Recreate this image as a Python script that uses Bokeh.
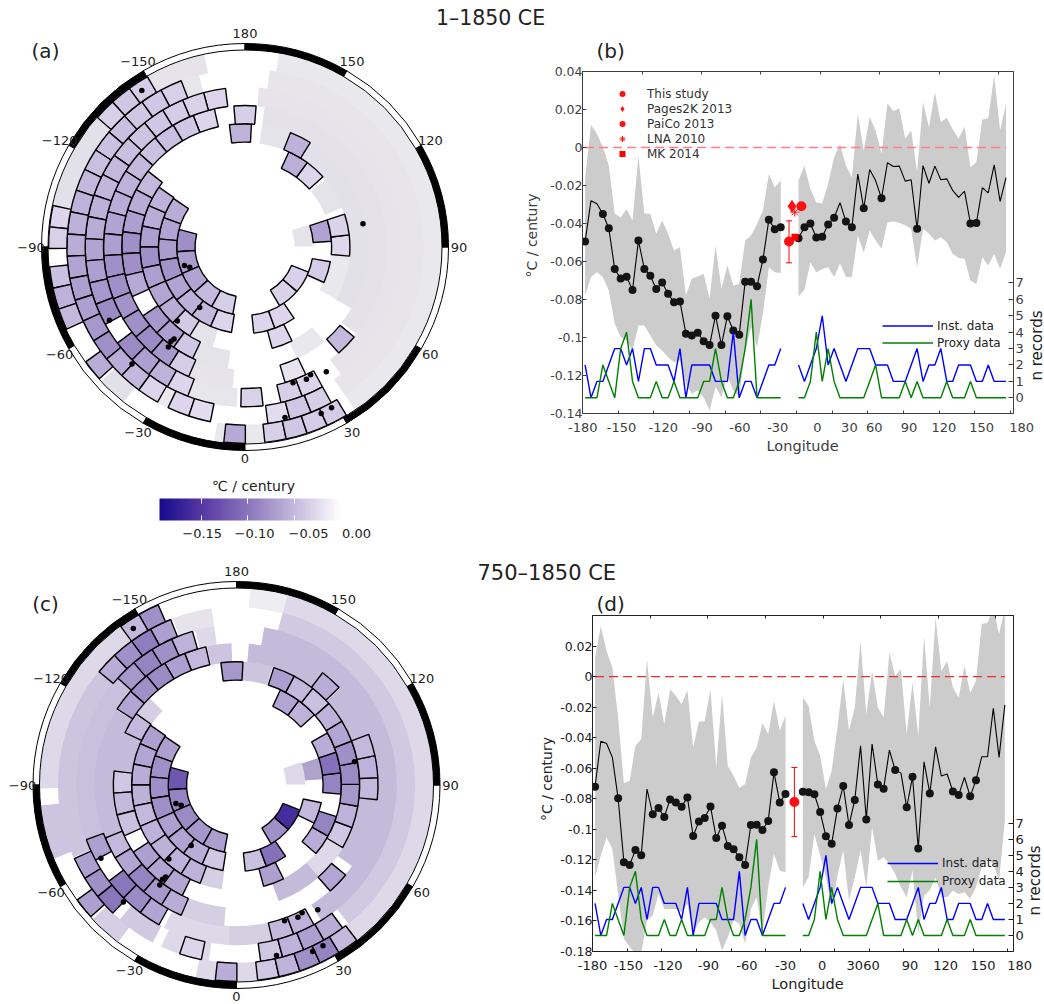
import math
from bokeh.embed import file_html
from bokeh.resources import INLINE
from bokeh.layouts import column, row
from bokeh.models import (ColumnDataSource, Range1d, LinearAxis, FixedTicker, Legend, LegendItem, Title, Label,
                          Whisker, TeeHead, ColorBar, LinearColorMapper)
from bokeh.plotting import figure
from bokeh.transform import transform
from bokeh.core.properties import value

FONT = "DejaVu Sans"

# ---------- equal-area grid of the maps: cells per ring ----------
RING_CELLS = [19, 25, 31, 35, 40, 45, 50, 57]
# outlined cells: (ring, first longitude, values in degC/century)
A_CELLS = [
    (0, -105, [-0.082, -0.072, -0.066, -0.05, -0.035]), (0, 30.5, [-0.032, -0.033]),
    (1, -124.2, [-0.06, -0.066, -0.072, -0.078, -0.066, -0.056, -0.05, -0.03]),
    (1, 65.8, [-0.036]), (1, 5.8, [-0.03, -0.03]), (1, 93.8, [-0.068]),
    (2, -124.8, [-0.055, -0.06, -0.07, -0.08, -0.07, -0.065, -0.06, -0.038]),
    (2, 85, [-0.028, -0.032]), (2, 15, [-0.03]), (2, 132, [-0.03, -0.058]),
    (3, -128, [-0.05, -0.06, -0.07, -0.08, -0.08, -0.062]), (3, -56, [-0.075, -0.07, -0.04]),
    (3, 148, [-0.055]), (3, -183, [-0.055]),
    (4, -167.5, [-0.03, -0.04, -0.046, -0.044, -0.05, -0.055, -0.06, -0.066, -0.07, -0.08,
                 -0.08, -0.078, -0.08, -0.085, -0.075, -0.036]),
    (4, 41.5, [-0.05]), (4, 175.5, [-0.035]), (4, 16.5, [-0.02]),
    (5, -173, [-0.03, -0.032, -0.036, -0.04, -0.042, -0.046, -0.05, -0.052, -0.056, -0.06,
               -0.066, -0.07, -0.076, -0.085]),
    (5, -53, [-0.085, -0.07, -0.055, -0.03]), (5, -1.5, [-0.032]), (5, 13, [-0.035]), (5, 21, [-0.03]),
    (6, -159, [-0.034, -0.04, -0.04, -0.046, -0.044, -0.046, -0.05, -0.055, -0.056, -0.06,
               -0.066, -0.07, -0.07, -0.076, -0.08, -0.06, -0.05, -0.03]),
    (6, -25.6, [-0.03, -0.025]), (6, 7.4, [-0.025, -0.04, -0.035]),
    (7, -150.2, [-0.036, -0.04, -0.034]), (7, -102.2, [-0.03, -0.034]),
    (7, -84.2, [-0.045, -0.055, -0.05]), (7, -54.2, [-0.06]), (7, -6.2, [-0.062]),
    (7, 5.8, [-0.034, -0.04, -0.036, -0.036]),
]
# cells without an outline: (ring, from longitude, to longitude, value)
A_PALE = [
    (7, 34, 170, -0.012), (7, -168, -150, -0.018), (7, -131, -102, -0.025), (7, -47, -38, -0.025),
    (7, -9, -6, -0.012), (7, 0, 6, -0.012), (6, 34, 172, -0.016), (6, -165, -159, -0.015),
    (6, -29, -25, -0.01), (5, 37, 175, -0.018), (5, -26, -3, -0.015), (4, 52, 172, -0.022),
    (4, -24, -5, -0.017), (3, 60, 148, -0.024), (3, 158, 172, -0.02), (3, 25, 40, -0.012),
    (3, -26, -8, -0.02), (2, 60, 85, -0.012), (2, 112, 130, -0.02), (2, -32, -18, -0.02),
    (0, 90.5, 109.5, -0.018),
]
C_CELLS = [
    (0, -105, [-0.125, -0.09, -0.085, -0.075, -0.07]), (0, 30.5, [-0.08, -0.16]),
    (1, -124.2, [-0.07, -0.08, -0.082, -0.08, -0.07, -0.066, -0.06, -0.04]),
    (1, 5.8, [-0.045, -0.105]), (1, 63.8, [-0.05]),
    (2, -124.8, [-0.07, -0.065, -0.06, -0.056, -0.05, -0.055, -0.056, -0.055, -0.055]),
    (2, 49.2, [-0.06, -0.09]), (2, 85, [-0.09, -0.105, -0.06]), (2, 132, [-0.055, -0.065]), (2, 15, [-0.07]),
    (3, -125.4, [-0.05]), (3, -96.5, [-0.04, -0.05, -0.045]), (3, -57, [-0.07, -0.065, -0.065]),
    (3, -183, [-0.075]),
    (3, 59.5, [-0.04, -0.055, -0.075, -0.085, -0.08, -0.065, -0.055, -0.045, -0.05, -0.07]),
    (4, 84, [-0.05, -0.055, -0.05]), (4, 133.5, [-0.06]), (4, 41.5, [-0.065]),
    (4, -167.5, [-0.05, -0.07, -0.085, -0.08, -0.065]),
    (4, -68, [-0.05, -0.065, -0.09, -0.075, -0.06]),
    (5, -164, [-0.055, -0.08, -0.09, -0.075]), (5, -70, [-0.07]), (5, -53, [-0.1, -0.085, -0.065]),
    (5, 13, [-0.05, -0.055]),
    (6, -158.3, [-0.07, -0.095, -0.08, -0.06]), (6, -65.6, [-0.07, -0.08, -0.1]), (6, -18.6, [-0.03]),
    (6, 7.8, [-0.04, -0.055, -0.07, -0.06]),
    (7, -156.5, [-0.08, -0.05]), (7, 6.2, [-0.04, -0.055, -0.08, -0.09, -0.05]),
    (7, -6.2, [-0.06]), (7, -54.2, [-0.07]),
]
C_PALE = [
    (7, 37, 165, -0.03), (7, 165, 176, -0.01), (7, -150, -89, -0.03), (7, -84, -68, -0.05),
    (7, -47, -37, -0.04), (7, -12, -6, -0.03), (7, 0, 6, -0.03),
    (6, 39, 165, -0.045), (6, -172, -159, -0.02), (6, -132, -66, -0.05), (6, -41, -28, -0.045),
    (6, -25, -9, -0.03), (5, 32, 170, -0.06), (5, -172, -165, -0.03), (5, -133, -70, -0.055),
    (5, -27, -3, -0.03), (5, -3, 13, -0.04), (4, 55, 84, -0.06), (4, 111, 133, -0.06),
    (4, 142.5, 175, -0.06), (4, -178, -168, -0.05), (4, -122, -68, -0.06), (4, -23, -5, -0.04),
    (3, -135, -125.4, -0.04), (3, -115, -97, -0.06), (3, 20, 42, -0.06), (3, 42, 59, -0.03),
    (3, 163, 178, -0.05), (2, -20, -8, -0.04), (1, 93.8, 108.2, -0.085), (0, 90.5, 109.5, -0.03),
]
# proxy sites: longitude and radial position in ring units
SITE_LON = [-146.6, -73, -69.8, -36.8, -42.4, -37.6, -38.1, -37.5, -44, -61.6, 101.2, 33.1, 27.2, 24.9, 19.5, 28.3, 24.6, 13.2]
SITE_RING = [7.51, 0.73, 0.49, 1.4, 2.75, 3.62, 3.82, 4.15, 6.16, 5.69, 3.84, 5.4, 5.11, 5.24, 5.13, 7.24, 7.27, 6.84]
MAP_TICKS = [180, 150, 120, 90, 60, 30, 0, -30, -60, -90, -120, -150]
CBAR_LABELS = ["\u22120.15", "\u22120.10", "\u22120.05", "0.00"]

# ---------- longitudinal profiles ----------
LON_L = [-180 + 5 * i for i in range(34)]
LON_R = [5 * k for k in range(36)]
INST_L = [2,0,1,1,2,3,3,2,3,1,3,3,2,2,2,1,3,0,2,2,2,2,1,1,1,4,0,1,1,0,1,2,2,3]
INST_R = [2,1,2,3,5,2,3,2,1,2,3,3,3,2,2,2,1,1,1,2,3,1,2,2,3,1,1,2,2,2,1,1,2,1,1,1]
PROXY_L = [0,0,0,2,1,0,3,4,1,0,0,0,1,0,0,1,0,0,0,0,1,1,3,1,0,0,1,3,6,0,0,0,0,0]
PROXY_R = [0,0,1,4,1,3,1,0,0,0,0,0,1,2,0,0,0,0,1,0,1,0,0,0,0,1,0,0,0,1,0,0,0,0,0,0]

B_MEAN_L = [-0.0495,-0.028,-0.0296,-0.035,-0.0425,-0.064,-0.069,-0.068,-0.075,-0.049,-0.064,-0.0675,-0.0745,-0.071,-0.077,-0.0815,-0.081,-0.098,-0.099,-0.0975,-0.102,-0.104,-0.0885,-0.104,-0.0888,-0.0963,-0.0985,-0.0707,-0.0707,-0.073,-0.059,-0.038,-0.043,-0.042]
B_MEAN_R = [-0.0477,-0.042,-0.04,-0.0474,-0.047,-0.0405,-0.037,-0.029,-0.039,-0.042,-0.014,-0.032,-0.0116,-0.0174,-0.0267,-0.008,-0.01,-0.0098,-0.0177,-0.017,-0.0428,-0.0095,-0.0188,-0.0098,-0.017,-0.0165,-0.0226,-0.0263,-0.023,-0.04,-0.0398,-0.0212,-0.0239,-0.0091,-0.0284,-0.0158]
B_UP_L = [-0.0165,0.0121,0.0072,0.0002,-0.0095,-0.0349,-0.0367,-0.0325,-0.0384,-0.0042,-0.0349,-0.0349,-0.0454,-0.0384,-0.0454,-0.0542,-0.0525,-0.0779,-0.0691,-0.0679,-0.0665,-0.0796,-0.0516,-0.0744,-0.0621,-0.0726,-0.0718,-0.0489,-0.0463,-0.0402,-0.0332,-0.0139,-0.0209,-0.0174]
B_LO_L = [-0.0779,-0.0682,-0.0656,-0.0682,-0.0753,-0.0928,-0.0998,-0.1016,-0.1068,-0.0937,-0.0937,-0.0989,-0.1042,-0.1068,-0.1104,-0.113,-0.1121,-0.1244,-0.1296,-0.1279,-0.1314,-0.1384,-0.1261,-0.1314,-0.12,-0.1279,-0.1314,-0.1068,-0.0946,-0.1051,-0.0875,-0.063,-0.0656,-0.0661]
B_UP_R = [-0.0174,-0.0095,-0.0218,-0.0289,-0.0293,-0.0191,-0.0051,0.0019,-0.0095,-0.0156,0.0177,-0.0016,0.016,0.0089,-0.0033,0.0233,0.0191,0.0207,0.0046,0.0089,-0.013,0.0239,0.0107,0.0291,0.0133,0.0156,0.0098,0.0046,0.0111,-0.0104,-0.0077,0.0147,0.0154,0.0379,0.0089,0.023]
B_LO_R = [-0.0784,-0.0749,-0.0604,-0.0658,-0.0639,-0.063,-0.0682,-0.0609,-0.0682,-0.0682,-0.0463,-0.0554,-0.0437,-0.0489,-0.0533,-0.0393,-0.0389,-0.0396,-0.0411,-0.0428,-0.063,-0.0428,-0.0454,-0.0489,-0.0472,-0.0498,-0.056,-0.0581,-0.0586,-0.07,-0.0718,-0.0577,-0.0621,-0.056,-0.0639,-0.0551]
B_MARK_L = [i for i in range(34) if i not in (1, 2)]
B_MARK_R = [0,1,2,3,4,5,6,8,9,11,14,20,29,30]

D_MEAN_L = [-0.0721,-0.0423,-0.0438,-0.0529,-0.0797,-0.1216,-0.1233,-0.1135,-0.117,-0.0736,-0.0902,-0.0861,-0.0919,-0.0804,-0.0824,-0.0852,-0.0791,-0.1044,-0.0948,-0.0926,-0.085,-0.1057,-0.0976,-0.1109,-0.1131,-0.1183,-0.1233,-0.0972,-0.097,-0.1004,-0.0946,-0.0627,-0.0824,-0.0769]
D_MEAN_R = [-0.0754,-0.0758,-0.0771,-0.0887,-0.1046,-0.1094,-0.0863,-0.0717,-0.0972,-0.0808,-0.0453,-0.0935,-0.0442,-0.0706,-0.0734,-0.0481,-0.0612,-0.0632,-0.0856,-0.0656,-0.1126,-0.0558,-0.0765,-0.046,-0.0651,-0.0638,-0.0752,-0.0776,-0.066,-0.0784,-0.0678,-0.0525,-0.0525,-0.0207,-0.0529,-0.0185]
D_UP_L = [0.0124,0.0331,0.0168,0.0059,-0.0268,-0.0699,-0.0682,-0.0453,-0.041,0.0113,-0.0268,-0.0105,-0.0312,-0.0083,-0.0126,-0.0181,-0.0089,-0.0464,-0.0294,-0.0294,-0.0083,-0.0595,-0.0115,-0.0584,-0.0649,-0.073,-0.0704,-0.0529,-0.0464,-0.0305,-0.0377,-0.0159,-0.0355,-0.0257]
D_LO_L = [-0.1314,-0.1172,-0.1052,-0.1129,-0.1423,-0.1717,-0.1771,-0.1815,-0.1815,-0.1597,-0.1564,-0.1423,-0.1521,-0.1521,-0.1521,-0.1542,-0.1488,-0.1684,-0.1608,-0.1575,-0.1608,-0.1662,-0.1793,-0.1706,-0.1597,-0.1619,-0.1749,-0.1521,-0.1444,-0.1684,-0.1379,-0.1161,-0.127,-0.1281]
D_UP_R = [-0.0137,-0.0192,-0.042,-0.0519,-0.0736,-0.0617,-0.0333,-0.0017,-0.0355,-0.0203,0.0233,-0.0246,0.0037,-0.0203,-0.0268,0.0157,0.0004,0.0048,-0.0377,-0.0039,-0.0388,0.0266,-0.0203,0.0386,0.0037,0.0102,-0.0072,-0.0137,0.007,-0.0105,-0.0028,0.0344,0.0353,0.0451,0.0277,0.0451]
D_LO_R = [-0.1379,-0.1314,-0.1031,-0.1172,-0.1314,-0.151,-0.1303,-0.1139,-0.1466,-0.1314,-0.1139,-0.1379,-0.0987,-0.1205,-0.1183,-0.1227,-0.1292,-0.1379,-0.1444,-0.127,-0.1684,-0.1434,-0.1401,-0.1314,-0.1444,-0.1444,-0.1401,-0.1423,-0.1412,-0.1455,-0.1379,-0.1248,-0.1194,-0.1227,-0.1336,-0.0943]
D_MARK_L = [i for i in range(34) if i not in (1, 2, 3, 9)]
D_MARK_R = [0,1,2,3,4,5,6,7,8,9,11,13,14,16,18,19,20,22,26,27,29,30]

# reference estimates: longitude, trend
B_STUDY = (-8, -0.0495, -0.0607, -0.0386)
B_PAGES = (-5.5, -0.0309)
B_PAICO = (2.4, -0.0309)
B_LNA = (-3.2, -0.034)
B_MK = (-3, -0.0472)
D_STUDY = (-7.3, -0.0821, -0.1048, -0.0595)

LON_LABELS = ["-180", "-150", "-120", "-90", "-60", "-30", "0", "30", "60", "90", "120", "150"]
B_LABEL_POS = [-181.9, -149.2, -114, -81.3, -49.4, -17.5, 16, 42.9, 63.9, 93.2, 122.6, 154.5]
D_LABEL_POS = [-182.1, -151.1, -116.9, -81.8, -48.4, -15, 16.7, 44.9, 59.4, 92.8, 123.7, 156.2]
N_TICKS = [0, 1, 2, 3, 4, 5, 6, 7]

# ---------- colours ----------
ANCHORS = [(0.0, (0x17, 0x0b, 0x8c)), (0.231, (0x55, 0x37, 0xa3)), (0.487, (0x8a, 0x76, 0xbb)),
           (0.744, (0xc4, 0xb9, 0xdd)), (1.0, (0xff, 0xff, 0xff))]
def ramp(t):
    for (a, ca), (b, cb) in zip(ANCHORS, ANCHORS[1:]):
        if t <= b:
            f = (t - a) / (b - a)
            return tuple(ca[i] + (cb[i] - ca[i]) * f for i in range(3))
    return ANCHORS[-1][1]
def hexc(c):
    return "#%02x%02x%02x" % tuple(int(round(x)) for x in c)
PALETTE = [hexc(ramp(i / 255)) for i in range(256)]
GREY_PALETTE = [hexc(tuple(0.45 * x + 0.55 * 226 for x in ramp(i / 255))) for i in range(256)]
PALE_PALETTE = [hexc(tuple(0.72 * x + 0.28 * 226 for x in ramp(i / 255))) for i in range(256)]
mapper = LinearColorMapper(palette=PALETTE, low=-0.195, high=0)
grey_mapper = LinearColorMapper(palette=GREY_PALETTE, low=-0.195, high=0)
pale_mapper = LinearColorMapper(palette=PALE_PALETTE, low=-0.195, high=0)

# ---------- map geometry (screen pixels around the pole) ----------
R_HOLE, R_STEP, R_DATA, R_FRAME = 50.0, 18.3, 196.5, 203.5
R_LAB = 214

def draw_map(p, cells, pale, bg_mapper):
    d = dict(inner=[], outer=[], a0=[], a1=[], v=[])
    for ring, lo, hi, val in pale:
        d["inner"].append(R_HOLE + R_STEP * ring - 0.4); d["outer"].append(R_HOLE + R_STEP * (ring + 1) + 0.4)
        d["a0"].append(lo - 90); d["a1"].append(hi - 90); d["v"].append(val)
    p.annular_wedge(0, 0, inner_radius="inner", outer_radius="outer", start_angle="a0", end_angle="a1",
                    start_angle_units="deg", end_angle_units="deg", source=ColumnDataSource(d),
                    fill_color=transform("v", bg_mapper), line_color=None)
    d = dict(inner=[], outer=[], a0=[], a1=[], v=[])
    for ring, start, vals in cells:
        w = 360 / RING_CELLS[ring]
        for k, val in enumerate(vals):
            d["inner"].append(R_HOLE + R_STEP * ring); d["outer"].append(R_HOLE + R_STEP * (ring + 1))
            d["a0"].append(start + k * w - 90); d["a1"].append(start + (k + 1) * w - 90); d["v"].append(val)
    p.annular_wedge(0, 0, inner_radius="inner", outer_radius="outer", start_angle="a0", end_angle="a1",
                    start_angle_units="deg", end_angle_units="deg", source=ColumnDataSource(d),
                    fill_color=transform("v", mapper), line_color="black", line_width=1.4)
    # frame: alternating black and white 30 degree arcs
    edges = list(range(-180, 180, 30))
    for i, e in enumerate(edges):
        black = i % 2 == 1
        p.annular_wedge(0, 0, inner_radius=R_DATA + 0.5, outer_radius=R_FRAME, start_angle=e - 90, end_angle=e - 60,
                        start_angle_units="deg", end_angle_units="deg",
                        fill_color="black" if black else "white", line_color="black", line_width=1)
    sx = [(R_HOLE + R_STEP * r) * math.sin(math.radians(l)) for l, r in zip(SITE_LON, SITE_RING)]
    sy = [-(R_HOLE + R_STEP * r) * math.cos(math.radians(l)) for l, r in zip(SITE_LON, SITE_RING)]
    p.scatter(sx, sy, size=5.5, color="black", line_color=None)
    for t in MAP_TICKS:
        r = 211.5 if t == 0 else R_LAB
        x, y = r * math.sin(math.radians(t)), -r * math.cos(math.radians(t))
        txt = str(t).replace("-", "\u2212")
        p.text([x], [y], text=[txt], text_font=value(FONT), text_font_size="13px", text_color="#222222",
               text_align="center", text_baseline="middle")

def map_fig(w, h, x0, x1, y0, y1):
    p = figure(width=w, height=h, x_range=Range1d(x0, x1), y_range=Range1d(y0, y1), output_backend="svg",
               toolbar_location=None, min_border=0, outline_line_color=None, frame_align=False)
    p.axis.visible = False
    p.grid.visible = False
    return p

def map_text(p, x, y, text, size, angle=0.0, color="#222222"):
    p.text([x], [y], text=[text], angle=[angle], text_font=value(FONT), text_font_size=size, text_color=color,
           text_align="center", text_baseline="middle")

def profile_fig(w, h, left, right, top, bottom, xr, yr, nr, yticks, bottom_ticks, top_ticks,
                label_pos, labels, text_color, y_label=None):
    p = figure(width=w, height=h, x_range=Range1d(*xr), y_range=Range1d(*yr), output_backend="svg",
               toolbar_location=None, min_border_left=left, min_border_right=right, min_border_top=top,
               min_border_bottom=bottom, outline_line_color=text_color, x_axis_location=None, y_axis_location=None,
               frame_align=False)
    p.grid.visible = False
    p.extra_y_ranges = {"n": Range1d(*nr)}
    ya = LinearAxis(ticker=FixedTicker(ticks=yticks), major_tick_in=4, major_tick_out=0, minor_tick_line_color=None,
                    major_label_text_font=FONT, major_label_text_font_size="12.5px", major_label_text_color=text_color,
                    major_label_standoff=0, axis_line_color=text_color, major_tick_line_color=text_color,
                    major_label_overrides={t: ("0" if t == 0 else ("%g" % t)) for t in yticks},
                    axis_label=y_label, axis_label_standoff=2, axis_label_text_font=FONT, axis_label_text_font_size="14px",
                    axis_label_text_font_style="normal", axis_label_text_color=text_color)
    p.add_layout(ya, "left")
    ra = LinearAxis(y_range_name="n", ticker=FixedTicker(ticks=N_TICKS), major_tick_in=5,
                    major_tick_out=0, minor_tick_line_color=None, major_label_text_font=FONT,
                    major_label_text_font_size="13px", major_label_text_color=text_color, major_label_standoff=2,
                    axis_line_color=None, major_tick_line_color=text_color)
    p.add_layout(ra, "right")
    ta = LinearAxis(ticker=FixedTicker(ticks=top_ticks), major_tick_in=3, major_tick_out=0, minor_tick_line_color=None,
                    major_label_text_font_size="1px", major_label_text_color=None, major_label_standoff=0,
                    axis_line_color=text_color, major_tick_line_color=text_color)
    p.add_layout(ta, "above")
    ba = LinearAxis(ticker=FixedTicker(ticks=bottom_ticks), major_tick_in=3, major_tick_out=0, minor_tick_line_color=None,
                    major_label_text_font_size="1px", major_label_text_color=None, major_label_standoff=0,
                    axis_line_color=text_color, major_tick_line_color=text_color)
    p.add_layout(ba, "below")
    la = LinearAxis(ticker=FixedTicker(ticks=label_pos), major_tick_in=0, major_tick_out=0, minor_tick_line_color=None,
                    major_label_text_font=FONT, major_label_text_font_size="13px", major_label_text_color=text_color,
                    major_label_standoff=6, axis_line_color=None, major_tick_line_color=None,
                    major_label_overrides=dict(zip(label_pos, labels)),
                    axis_label="\u00a0\u00a0Longitude", axis_label_standoff=0, axis_label_text_font=FONT,
                    axis_label_text_font_size="14.5px", axis_label_text_font_style="normal", axis_label_text_color=text_color)
    p.add_layout(la, "below")
    return p

def n_records(p, x, y):
    p.add_layout(Label(x=x, y=y, x_units="screen", y_units="screen", text="n records", angle=90, angle_units="deg",
                       text_font=FONT, text_font_size="15px", text_color="#222222", text_align="center",
                       text_baseline="middle"), "right")

def panel_title(p, text, offset, standoff, size):
    p.add_layout(Title(text=text, align="left", offset=offset, standoff=standoff, text_font=FONT, text_font_size=size,
                       text_font_style="normal", text_color="#222222"), "above")

def draw_series(p, up_l, lo_l, up_r, lo_r, mean_l, mean_r, mark_l, mark_r, zero_color, zero_w):
    p.varea(LON_L, up_l, lo_l, fill_color="#cccccc")
    p.varea(LON_R, up_r, lo_r, fill_color="#cccccc")
    p.line([-180, 175], [0, 0], line_color=zero_color, line_dash="9 5", line_width=zero_w)
    for lon, mean, marks in ((LON_L, mean_l, mark_l), (LON_R, mean_r, mark_r)):
        p.line(lon, mean, line_color="black", line_width=1.1)
        p.scatter([lon[i] for i in marks], [mean[i] for i in marks], size=8, color="#141414", line_color=None)
    inst, prox = None, None
    for lon, a, b in ((LON_L, INST_L, PROXY_L), (LON_R, INST_R, PROXY_R)):
        inst = p.line(lon, a, line_color="#0000ff", line_width=1.4, y_range_name="n")
        prox = p.line(lon, b, line_color="#008000", line_width=1.4, y_range_name="n")
    return inst, prox

def count_legend(p, inst, prox, x, y, h):
    p.add_layout(Legend(items=[LegendItem(label="Inst. data", renderers=[inst]), LegendItem(label="Proxy data", renderers=[prox])],
                        location=(x, y), margin=0, padding=0, spacing=0, glyph_width=51, glyph_height=h,
                        label_height=h, label_standoff=4, background_fill_alpha=0, border_line_color=None,
                        label_text_font=FONT, label_text_font_size="12px", label_text_color="#222222"))

def whisker(p, study):
    src = ColumnDataSource(dict(x=[study[0]], lo=[study[2]], hi=[study[3]]))
    p.add_layout(Whisker(base="x", lower="lo", upper="hi", source=src, dimension="height", line_color="#ff0000",
                         line_width=1,
                         upper_head=TeeHead(size=6, line_color="#ff0000", line_width=1),
                         lower_head=TeeHead(size=6, line_color="#ff0000", line_width=1)))

# ---------- panel (a), with the row title and the y label of (b) ----------
pa = map_fig(546, 550, -244.5, 546 - 244.5, 246.5 - 550, 246.5)
draw_map(pa, A_CELLS, A_PALE, grey_mapper)
map_text(pa, 45 - 244.5, 246.5 - 50, "(a)", "20px")
map_text(pa, 490 - 244.5, 246.5 - 17, "1\u20131850 CE", "20.5px")
map_text(pa, 531.7 - 244.5, 246.5 - 235, "\u00b0C / century", "14px", angle=math.pi / 2, color="#404040")
cb = ColorBar(color_mapper=mapper, orientation="horizontal", location=(159, 30), width=181, height=22, padding=0, margin=0,
              ticker=FixedTicker(ticks=[-0.15, -0.10, -0.05]), major_tick_line_color="white", major_tick_in=22,
              major_tick_line_dash="5 12 5", minor_tick_line_color=None, major_label_text_font_size="1px",
              major_label_text_color=None, bar_line_color=None, title=None)
pa.add_layout(cb)
map_text(pa, 253 - 244.5, 246.5 - 485, "\u2103 / century", "14px")
for px, txt in zip((201.7, 254, 308, 356), CBAR_LABELS):
    map_text(pa, px - 244.5, 246.5 - 533, txt, "13px")

# ---------- panel (b) ----------
B_TICKS_BOTTOM = [-182.1 + 30.06 * k for k in range(13)]
B_TICKS_TOP = [-182.1 + 50.1 * k for k in range(1, 8)]
B_YT = [0.04, 0.02, 0, -0.02, -0.04, -0.06, -0.08, -0.1, -0.12, -0.14]
pb = profile_fig(498, 550, 36, 29, 71, 137, (-182.18, 181.3), (-0.14, 0.04), (-0.955, 19.88), B_YT,
                 B_TICKS_BOTTOM, B_TICKS_TOP, B_LABEL_POS + [181.2], LON_LABELS + ["\u00a0" * 4 + "180"], "#404040")
ib, gb = draw_series(pb, B_UP_L, B_LO_L, B_UP_R, B_LO_R, B_MEAN_L, B_MEAN_R, B_MARK_L, B_MARK_R, "#ff8080", 1.5)
whisker(pb, B_STUDY)
r1 = pb.scatter([B_STUDY[0]], [B_STUDY[1]], marker="circle", size=10, color="#ff1010", line_color=None)
r2 = pb.scatter([B_PAGES[0]], [B_PAGES[1]], marker="diamond", size=13, color="#ff1010", line_color=None)
r3 = pb.scatter([B_PAICO[0]], [B_PAICO[1]], marker="circle", size=10, color="#ff1010", line_color=None)
r4 = pb.scatter([B_LNA[0]], [B_LNA[1]], marker="asterisk", size=9, line_color="#ff1010", line_width=1)
r5 = pb.scatter([B_MK[0]], [B_MK[1]], marker="square", size=7, color="#ff0000", line_color=None)
pb.add_layout(Legend(items=[LegendItem(label=l, renderers=[r]) for l, r in
                            zip(["This study", "Pages2K 2013", "PaiCo 2013", "LNA 2010", "MK 2014"], [r1, r2, r3, r4, r5])],
                     location=(30, 252), margin=0, padding=0, spacing=0, glyph_width=20, glyph_height=15,
                     label_height=15, label_standoff=15, background_fill_alpha=0, border_line_color=None,
                     label_text_font=FONT, label_text_font_size="12px", label_text_color="#333333"))
count_legend(pb, ib, gb, 300, 62, 17)
panel_title(pb, "(b)", 14, 18, "20px")
n_records(pb, 10, 68)

# ---------- panel (c) ----------
pc = map_fig(470, 454, -236, 470 - 236, 784.5 - 1004, 784.5 - 550)
draw_map(pc, C_CELLS, C_PALE, pale_mapper)
map_text(pc, 45 - 236, 784.5 - 603, "(c)", "20px")

# ---------- panel (d) ----------
D_TICKS_BOTTOM = [-182.1 + 29.97 * k for k in range(13)]
D_TICKS_TOP = [-182.1 + 49.9 * k for k in range(1, 8)]
D_YT = [0.02, 0, -0.02, -0.04, -0.06, -0.08, -0.1, -0.12, -0.14, -0.16, -0.18]
pd_ = profile_fig(574, 454, 122, 26, 65, 53, (-182.2, 182.5), (-0.18, 0.04), (-1.0, 19.96), D_YT,
                  D_TICKS_BOTTOM, D_TICKS_TOP, D_LABEL_POS + [182.4], LON_LABELS + ["\u00a0" * 3 + "180"], "#222222",
                  y_label="\u00a0\u00a0\u00b0C / century")
id_, gd = draw_series(pd_, D_UP_L, D_LO_L, D_UP_R, D_LO_R, D_MEAN_L, D_MEAN_R, D_MARK_L, D_MARK_R, "#f03030", 1.1)
whisker(pd_, D_STUDY)
pd_.scatter([D_STUDY[0]], [D_STUDY[1]], marker="circle", size=10, color="#ff1010", line_color=None)
count_legend(pd_, id_, gd, 295, 61, 18)
panel_title(pd_, "(d)", 4, 0, "20px")
panel_title(pd_, "750\u20131850 CE", -115, 10, "21px")
n_records(pd_, 8, 71)

page = column(row(pa, pb, spacing=0), row(pc, pd_, spacing=0), spacing=0)
open("out.html", "w").write(file_html(page, INLINE))
